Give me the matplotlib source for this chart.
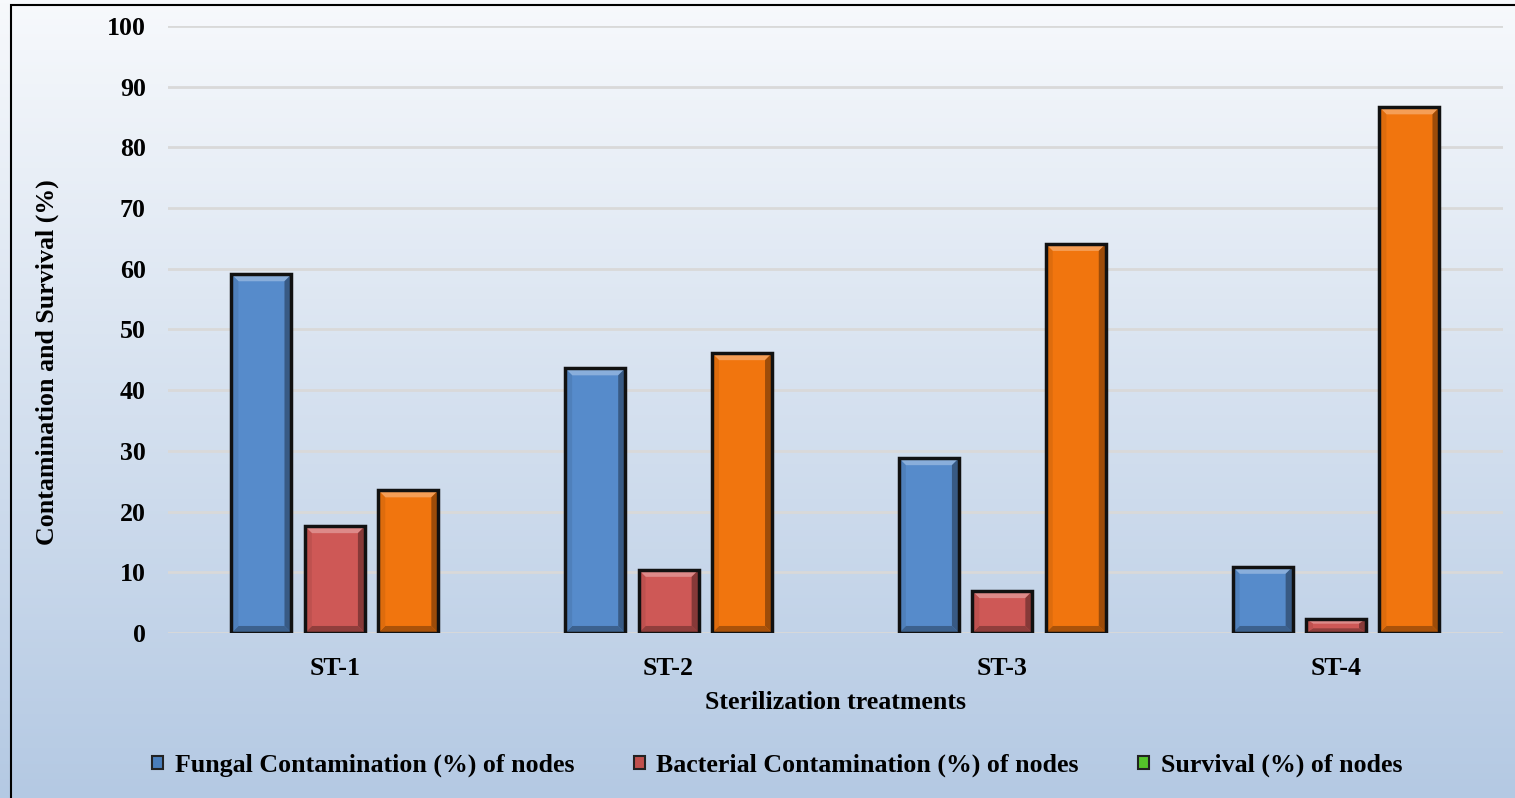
import matplotlib.pyplot as plt
import numpy as np
from matplotlib.patches import Polygon, Patch, Rectangle
from matplotlib.colors import to_rgb

treatments = ['ST-1', 'ST-2', 'ST-3', 'ST-4']
fungal = [59.1, 43.6, 28.8, 10.9]
bacterial = [17.6, 10.4, 6.9, 2.3]
survival = [23.5, 46.1, 64.1, 86.6]
series_names = ['Fungal Contamination (%) of nodes',
                'Bacterial Contamination (%) of nodes',
                'Survival (%) of nodes']
bar_colors = ['#568BCB', '#CE5856', '#F1750E']
# legend in the original shows survival in green
legend_colors = ['#4A7EBB', '#C0504D', '#55C42A']

plt.rcParams['font.family'] = ['Liberation Serif', 'DejaVu Serif']
plt.rcParams['font.weight'] = 'bold'
fs = 18.6


def mix(c, f):
    c = np.array(to_rgb(c))
    if f > 0:
        return tuple(c + (1 - c) * f)
    return tuple(c * (1 + f))


fig = plt.figure(figsize=(15.15, 7.98), dpi=100)

# gradient background
bg = fig.add_axes([0, 0, 1, 1], zorder=-10)
top = np.array(to_rgb('#F7F9FC'))
bot = np.array(to_rgb('#B4C9E3'))
t = np.linspace(0, 1, 256)[:, None]
grad = (top * (1 - t) + bot * t)[:, None, :]
bg.imshow(grad, aspect='auto', extent=[0, 1, 0, 1])
bg.set_xlim(0, 1)
bg.set_ylim(0, 1)
bg.axis('off')
bg.add_patch(Rectangle((11 / 1515, -0.01), 1.1, 1 - 5 / 798 + 0.01,
                       fill=False, edgecolor='black', lw=1.5))

ax = fig.add_axes([0.1109, 0.2068, 0.8811, 0.7606])
ax.patch.set_alpha(0)

x = np.arange(len(treatments))
width = 0.18
offsets = [-0.22, 0.0, 0.22]
series = [fungal, bacterial, survival]

ax.set_xlim(-0.5, 3.5)
ax.set_ylim(0, 100)

# bevel size in data units (~7 px)
dx = 7 / (0.8811 * 1515) * 4.0
dy = 7 / (0.7606 * 798) * 100.0

for vals, off, col in zip(series, offsets, bar_colors):
    bars = ax.bar(x + off, vals, width, color=col, edgecolor='none', zorder=3)
    for r in bars:
        x0, w, h = r.get_x(), r.get_width(), r.get_height()
        by = min(dy, h / 3)
        polys = [
            ([(x0, h), (x0 + w, h), (x0 + w - dx, h - by), (x0 + dx, h - by)], mix(col, 0.3)),
            ([(x0, 0), (x0 + w, 0), (x0 + w - dx, by), (x0 + dx, by)], mix(col, -0.3)),
            ([(x0 + w, 0), (x0 + w, h), (x0 + w - dx, h - by), (x0 + w - dx, by)], mix(col, -0.35)),
            ([(x0, 0), (x0, h), (x0 + dx, h - by), (x0 + dx, by)], mix(col, -0.08)),
        ]
        for pts, c in polys:
            ax.add_patch(Polygon(pts, closed=True, facecolor=c, edgecolor='none', zorder=4))
    ax.bar(x + off, vals, width, fill=False, edgecolor='#111111', lw=2.5, zorder=5)

ax.set_yticks(np.arange(0, 101, 10))
ax.set_xticks(x)
ax.set_xticklabels(treatments)
ax.tick_params(axis='both', length=0, labelsize=fs)
ax.tick_params(axis='y', pad=16)
ax.tick_params(axis='x', pad=17)
for s in ax.spines.values():
    s.set_visible(False)
ax.yaxis.grid(True, color='#D9D9D9', lw=2)
ax.set_axisbelow(True)

fig.text(0.031, 0.5464, 'Contamination and Survival (%)', rotation=90,
         ha='center', va='center', fontsize=fs, fontweight='bold')
fig.text(0.5518, 0.1203, 'Sterilization treatments',
         ha='center', va='center', fontsize=fs, fontweight='bold')

handles = [Patch(facecolor=c, edgecolor='#222222', lw=1.5) for c in legend_colors]
fig.legend(handles, series_names, loc='center', bbox_to_anchor=(0.513, 0.041),
           ncol=3, frameon=False, fontsize=fs, handlelength=0.42, handleheight=0.42,
           handletextpad=0.45, columnspacing=2.3)

fig.savefig('out.png', dpi=100)
